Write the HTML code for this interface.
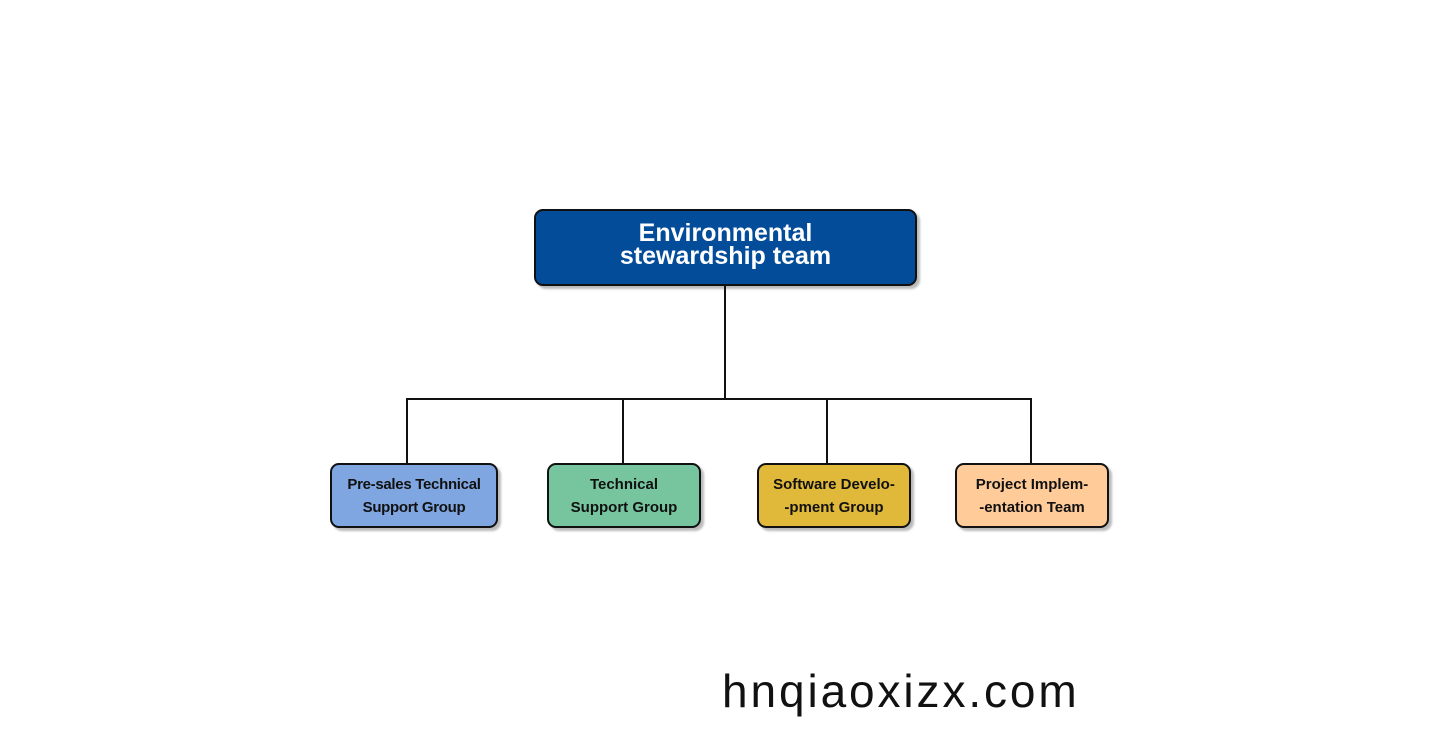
<!DOCTYPE html>
<html><head><style>
body{margin:0;width:1440px;height:739px;background:#fff;position:relative;overflow:hidden;font-family:"Liberation Sans",sans-serif;}
.b{position:absolute;box-sizing:border-box;border:2px solid #111;border-radius:9px;box-shadow:3px 3px 2px #bbb;display:flex;align-items:center;justify-content:center;text-align:center;font-weight:bold;color:#111;}
.l{position:absolute;background:#111;}
</style></head><body>
<div class="b" style="left:534px;top:209px;width:383px;height:77px;background:#034c99;color:#fff;font-size:25px;line-height:23px;padding-bottom:6px;">Environmental<br>stewardship team</div>
<div class="l" style="left:724px;top:286px;width:2px;height:114px"></div>
<div class="l" style="left:406px;top:398px;width:626px;height:2px"></div>
<div class="l" style="left:406px;top:398px;width:2px;height:66px"></div>
<div class="l" style="left:622px;top:398px;width:2px;height:66px"></div>
<div class="l" style="left:826px;top:398px;width:2px;height:66px"></div>
<div class="l" style="left:1030px;top:398px;width:2px;height:66px"></div>
<div class="b" style="left:330px;top:463px;width:168px;height:65px;background:#7fa6e0;font-size:15px;line-height:23px;letter-spacing:-0.3px;">Pre-sales Technical<br>Support Group</div>
<div class="b" style="left:547px;top:463px;width:154px;height:65px;background:#77c59e;font-size:15px;line-height:23px;">Technical<br>Support Group</div>
<div class="b" style="left:757px;top:463px;width:154px;height:65px;background:#e0b83a;font-size:15px;line-height:23px;">Software Develo-<br>-pment Group</div>
<div class="b" style="left:955px;top:463px;width:154px;height:65px;background:#ffcb99;font-size:15px;line-height:23px;">Project Implem-<br>-entation Team</div>
<div style="position:absolute;left:722px;top:664px;font-family:'Liberation Sans',sans-serif;font-size:46px;color:#111;letter-spacing:2.9px;">hnqiaoxizx.com</div>
</body></html>
